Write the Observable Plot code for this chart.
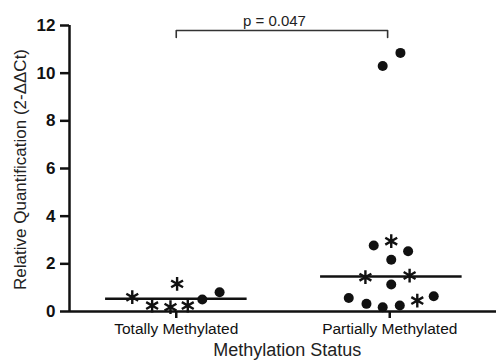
<!DOCTYPE html>
<html><head><meta charset="utf-8">
<script src="https://cdn.jsdelivr.net/npm/d3@7"></script>
<script src="https://cdn.jsdelivr.net/npm/@observablehq/plot@0.6"></script>
<style>body{margin:0;background:#fff}</style>
</head><body><div id="chart"></div>
<script>
const categories = ["Totally Methylated", "Partially Methylated"];
const yTicks = [0, 2, 4, 6, 8, 10, 12];
// category index + horizontal jitter, value, marker shape
const groupX = [-0.206, -0.113, 0.004, -0.027, 0.054, 0.122, 0.203,
  0.925, 1.007, 1.086, 1.007, 0.886, 1.093, 1.007, 0.808, 0.891, 0.967, 1.047, 1.129, 1.206, 0.967, 1.050];
const values = [0.60, 0.25, 1.16, 0.18, 0.25, 0.50, 0.81,
  2.77, 2.95, 2.53, 2.17, 1.44, 1.51, 1.13, 0.57, 0.32, 0.18, 0.25, 0.46, 0.64, 10.30, 10.85];
const shapes = ["star","star","star","star","star","dot","dot",
  "dot","star","dot","dot","star","star","dot","dot","dot","dot","dot","star","dot","dot","dot"];
const medians = [0.53, 1.47];
const medianX1 = [-0.331, 0.676];
const medianX2 = [0.332, 1.339];
const pLabel = "p = 0.047";
const yLabel = "Relative Quantification (2-ΔΔCt)";
const xLabel = "Methylation Status";

const pts = values.map((v, i) => ({x: groupX[i], y: v, s: shapes[i]}));
const med = medians.map((m, i) => ({y: m, x1: medianX1[i], x2: medianX2[i]}));
const bracketY = 11.79, bracketTick = 11.5;
const bracket = [{x: 0, y: bracketTick}, {x: 0, y: bracketY}, {x: 0.99, y: bracketY}, {x: 0.99, y: bracketTick}];

const font = "'Liberation Sans', Arial, Helvetica, sans-serif";
const chart = Plot.plot({
  width: 496, height: 362,
  marginLeft: 69, marginRight: 0, marginTop: 25, marginBottom: 51,
  style: {fontFamily: font, color: "#111", background: "#fff"},
  x: {domain: [-0.5, 1.5], axis: null},
  y: {domain: [0, 12], axis: null},
  marks: [
    Plot.axisY({ticks: yTicks, tickSize: 9, tickPadding: 5, fontSize: 17, fontWeight: "bold", strokeWidth: 2.5, label: null}),
    Plot.axisX({ticks: [0, 1], tickFormat: i => categories[i], tickSize: 7, tickPadding: 4, fontSize: 15.5, strokeWidth: 2.5, label: null}),
    Plot.ruleX([-0.5], {y1: 0, y2: 12, strokeWidth: 2.5, stroke: "#111"}),
    Plot.ruleY([0], {strokeWidth: 2.5, stroke: "#111"}),
    Plot.ruleY(med, {y: "y", x1: "x1", x2: "x2", strokeWidth: 2.5, stroke: "#111"}),
    Plot.line(bracket, {x: "x", y: "y", stroke: "#333", strokeWidth: 1.6}),
    Plot.text([pLabel], {x: () => 0.46, y: () => 12.2, fontSize: 15, fill: "#222"}),
    Plot.dot(pts.filter(d => d.s === "dot"), {x: "x", y: "y", r: 5, fill: "#111", stroke: "none"}),
    Plot.dot(pts.filter(d => d.s === "star"), {x: "x", y: "y", r: 6.5, symbol: "asterisk", stroke: "#111", strokeWidth: 2.4}),
    Plot.text([yLabel], {frameAnchor: "left", textAnchor: "middle", y: () => 5.96, rotate: -90, dx: -49, fontSize: 17, fill: "#222"}),
    Plot.text([xLabel], {frameAnchor: "bottom", x: () => 0.52, dy: 44, fontSize: 18, fill: "#222"})
  ]
});
document.getElementById("chart").appendChild(chart);
</script>
</body></html>
